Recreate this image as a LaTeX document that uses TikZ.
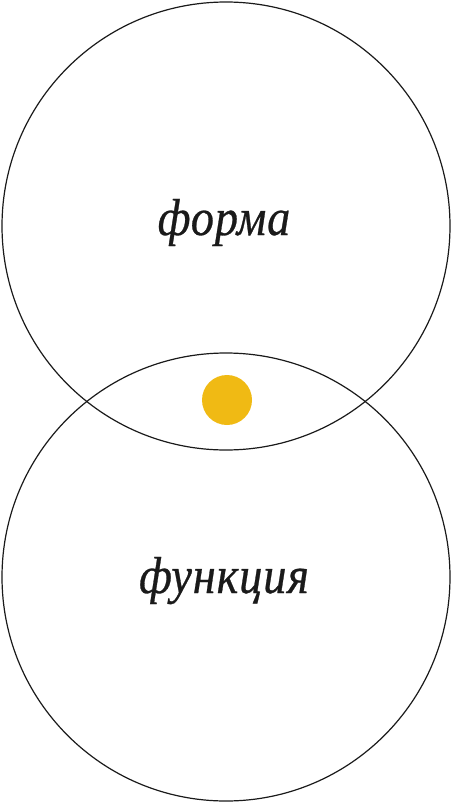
\documentclass[tikz,border=0pt]{standalone}
\usepackage{fontspec}
\setmainfont{Liberation Serif}[ItalicFeatures={FakeBold=0.6,LetterSpace=2}]
\definecolor{dotyellow}{HTML}{F0BA14}
\definecolor{ink}{HTML}{1A1A1A}
\begin{document}
\begin{tikzpicture}[x=1pt,y=-1pt,
  ring/.style={draw=ink,line width=1.2pt},
  word/.style={font=\fontsize{52}{56}\selectfont\itshape,text=ink,anchor=base,inner sep=0pt,xscale=0.89}]
\useasboundingbox (0,0) rectangle (452,803);
\node[ring,circle,minimum size=448pt,inner sep=0pt] (forma) at (226,226) {};
\node[ring,circle,minimum size=448pt,inner sep=0pt] (func) at (226,577) {};
\node[circle,fill=dotyellow,minimum size=50pt,inner sep=0pt] (dot) at (227,400) {};
\node[word] (t1) at (224,235) {форма};
\node[word] (t2) at (224,593) {функция};
\end{tikzpicture}
\end{document}
